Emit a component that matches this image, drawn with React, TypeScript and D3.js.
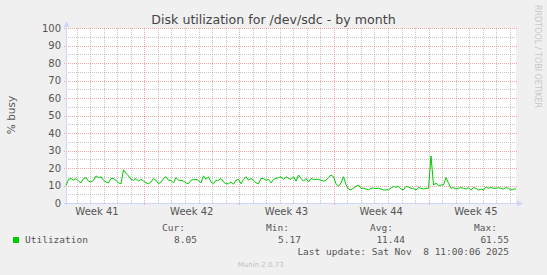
import React from "react";
import * as d3 from "d3";

// ---- data ----
const title = "Disk utilization for /dev/sdc - by month";
const yAxisLabel = "% busy";
const seriesName = "Utilization";
const rangeStart = Date.UTC(2025, 9, 6, 5, 0);
const rangeEnd = Date.UTC(2025, 10, 8, 11, 0);
const yTicks = [0, 10, 20, 30, 40, 50, 60, 70, 80, 90, 100];
const utilization = [
  10, 13.5, 14, 13, 14, 12.5, 11.5, 14, 14.5, 12.5, 12, 13, 15.5, 14.5, 15, 13, 12, 11.5, 14, 14,
  13, 11.5, 11, 19, 17, 15.5, 13.5, 13, 14, 12.5, 13.5, 12.5, 11.5, 11, 12, 14, 13, 11, 12, 14,
  15, 13, 13, 11.5, 14.5, 13,
  13, 12.5, 11.5, 11, 13, 13.5, 13.5, 13, 11.5, 15.5, 13.5, 15, 12, 11, 13, 13, 14, 12, 11, 11,
  12, 10.8, 13, 13.5, 11, 13.5, 15, 13, 14, 13, 11.5, 11, 14, 14, 13, 13.5, 11.5, 13.5, 14, 14.5,
  15, 13.5, 15, 14, 13.5, 15,
  12.5, 16, 14, 12.5, 14, 12, 14, 13.5, 13.5, 13.5, 13, 12.5, 13, 14.5, 16, 15, 11, 9.5, 11.5, 15,
  10.5, 8, 7.5, 8.5, 9.5, 10.3, 8.3, 8.5, 8, 7.5, 8.5, 8.5, 8.2, 8.5, 8, 7.5, 7.5, 7.5, 8.5, 9.5,
  9, 9.5, 8, 7.5, 9.5,
  9.1, 8.4, 8.4, 7.4, 8.8, 8.4, 8.0, 8.4, 8.4, 26.9, 10.3, 11.3, 9.9, 10.3, 10.3, 14.5, 11.3, 8.4, 8.8, 8.0,
  8.4, 8.8, 8.4, 8.0, 8.8, 7.4, 8.8, 8.4, 7.4, 8.0, 7.4, 9.3, 8.4, 8.8, 8.4, 8.4, 8.8, 8.4, 8.0, 8.8,
  8.4, 7.4, 8.0, 8.05,
];
const legendHeaders = ["Cur:", "Min:", "Avg:", "Max:"];
const legendValues = ["8.05", "5.17", "11.44", "61.55"];
const lastUpdate = "Last update: Sat Nov  8 11:00:06 2025";
const watermark = "RRDTOOL / TOBI OETIKER";
const footer = "Munin 2.0.73";

// ---- layout ----
const W = 547;
const H = 275;
const X0 = 66;
const X1 = 516;
const YT = 28;
const YB = 203;

export default function App() {
  const x = d3.scaleUtc().domain([new Date(rangeStart), new Date(rangeEnd)]).range([X0, X1]);
  const y = d3.scaleLinear().domain([0, 100]).range([YB, YT]);
  const step = (rangeEnd - rangeStart) / (utilization.length - 1);
  const pts = utilization.map((v, i) => ({ t: new Date(rangeStart + i * step), v }));
  const line = d3
    .line<{ t: Date; v: number }>()
    .x((d) => x(d.t))
    .y((d) => y(d.v));

  const days = d3.utcDay.range(new Date(rangeStart), new Date(rangeEnd));
  const weeks = d3.utcSunday.range(new Date(rangeStart), new Date(rangeEnd));
  const labelWeeks = d3.utcSunday
    .range(d3.utcSunday.floor(new Date(rangeStart)), new Date(rangeEnd))
    .map((d) => new Date(d.getTime() + 3.5 * 86400000))
    .filter((d) => d.getTime() >= rangeStart && d.getTime() <= rangeEnd);
  const fmtWeek = d3.utcFormat("%V");
  const minorY = d3.range(5, 100, 10);
  const px = (v: number) => Math.round(v) + 0.5;

  const gridGrey = "rgba(150,150,150,0.55)";
  const gridRed = "rgba(225,85,85,0.5)";
  const axisCol = "#CFD6F8";
  const font = "'DejaVu Sans', sans-serif";
  const mono = "'DejaVu Sans Mono', monospace";
  const colX = [197, 301, 405, 509];

  return (
    <svg
      width={W}
      height={H}
      viewBox={`0 0 ${W} ${H}`}
      style={{ position: "fixed", left: 0, top: 0, display: "block" }}
    >
      <rect x={0} y={0} width={W} height={H} fill="#F0F0F0" />
      <rect x={X0} y={YT} width={X1 - X0} height={YB - YT} fill="#FFFFFF" />

      {/* minor horizontal grid */}
      {minorY.map((v) => (
        <line key={"mh" + v} x1={X0} x2={X1} y1={px(y(v))} y2={px(y(v))} stroke={gridGrey} strokeDasharray="1,1" />
      ))}
      {/* minor vertical grid */}
      {days
        .filter((d) => d.getUTCDay() !== 0)
        .map((d) => (
          <line key={"mv" + d.getTime()} x1={px(x(d))} x2={px(x(d))} y1={YT} y2={YB} stroke={gridGrey} strokeDasharray="1,1" />
        ))}
      {/* major horizontal grid */}
      {yTicks
        .filter((v) => v > 0)
        .map((v) => (
          <line key={"Mh" + v} x1={X0 - 2} x2={X1 + 2} y1={px(y(v))} y2={px(y(v))} stroke={gridRed} strokeDasharray="1,1" />
        ))}
      {/* major vertical grid */}
      {weeks.map((d) => (
        <line key={"Mv" + d.getTime()} x1={px(x(d))} x2={px(x(d))} y1={YT} y2={YB + 3} stroke={gridRed} strokeDasharray="1,1" />
      ))}

      {/* axes */}
      <line x1={X0 + 0.5} x2={X0 + 0.5} y1={YB + 2} y2={YT - 4} stroke={axisCol} />
      <path d={`M${X0 - 2.5},${YT - 1} L${X0 + 3.5},${YT - 1} L${X0 + 0.5},${YT - 7} Z`} fill={axisCol} />
      <line x1={X0 - 2} x2={X1 + 4} y1={YB + 0.5} y2={YB + 0.5} stroke={axisCol} />
      <path d={`M${X1 + 1},${YB - 2.5} L${X1 + 1},${YB + 3.5} L${X1 + 7},${YB + 0.5} Z`} fill={axisCol} />

      {/* data */}
      <path d={line(pts) || ""} fill="none" stroke="#00CC00" strokeWidth={1} />

      {/* y tick labels */}
      {yTicks.map((v) => (
        <text key={"yl" + v} x={61} y={y(v) + 3.6} textAnchor="end" fontFamily={font} fontSize={10} fill="#555">
          {v}
        </text>
      ))}
      {/* x labels */}
      {labelWeeks.map((d) => (
        <text key={"xl" + d.getTime()} x={x(d)} y={215} textAnchor="middle" fontFamily={font} fontSize={10} fill="#555">
          {"Week " + fmtWeek(d)}
        </text>
      ))}

      {/* title */}
      <text x={273.5} y={23.5} textAnchor="middle" fontFamily={font} fontSize={12.6} fill="#444">
        {title}
      </text>
      <text transform="translate(14.5,115) rotate(-90)" textAnchor="middle" fontFamily={font} fontSize={10.5} fill="#555">
        {yAxisLabel}
      </text>
      <text transform="translate(535,5) rotate(90)" fontFamily={font} fontSize={8} fill="#C8C8C8">
        {watermark}
      </text>

      {/* legend */}
      <rect x={13} y={237} width={6} height={6} fill="#00CC00" />
      <text x={25} y={242.5} fontFamily={mono} fontSize={9.5} fill="#555">
        {seriesName}
      </text>
      {legendHeaders.map((h, i) => (
        <text key={"lh" + i} x={colX[i] - 12} y={230.5} textAnchor="end" fontFamily={mono} fontSize={9.5} fill="#555">
          {h}
        </text>
      ))}
      {legendValues.map((v, i) => (
        <text key={"lv" + i} x={colX[i]} y={242.5} textAnchor="end" fontFamily={mono} fontSize={9.5} fill="#555">
          {v}
        </text>
      ))}
      <text x={509} y={254.5} textAnchor="end" fontFamily={mono} fontSize={9.5} fill="#555" xmlSpace="preserve" style={{ whiteSpace: "pre" }}>
        {lastUpdate}
      </text>
      <text x={260.7} y={267} textAnchor="middle" fontFamily={font} fontSize={7} fill="#C0C0C0">
        {footer}
      </text>
    </svg>
  );
}
